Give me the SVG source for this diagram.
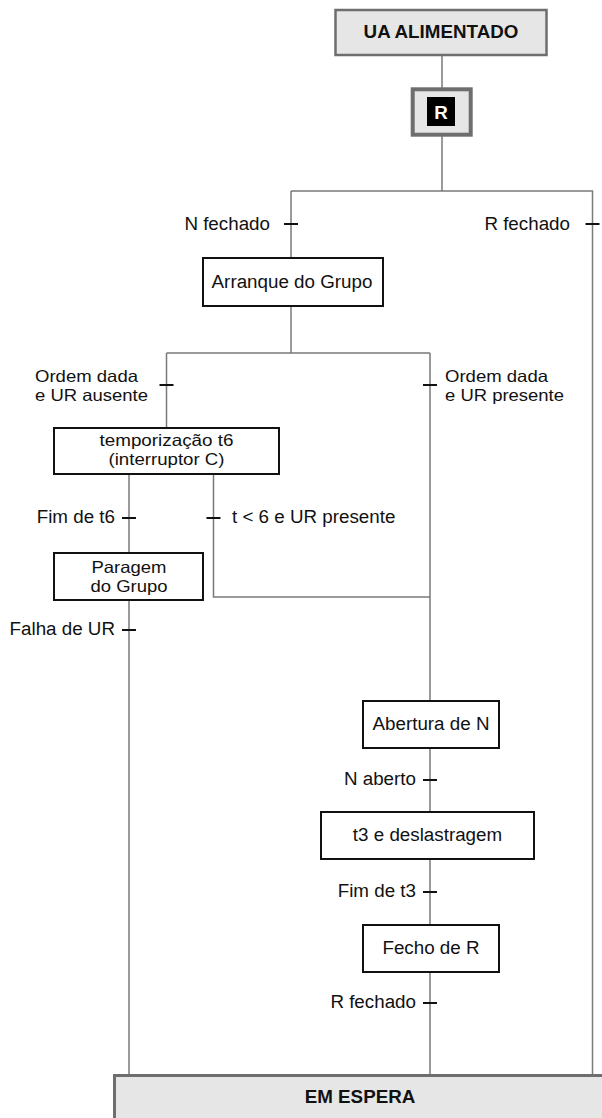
<svg xmlns="http://www.w3.org/2000/svg" width="602" height="1118" viewBox="0 0 602 1118">
  <style>
    text { font-family: "Liberation Sans", Arial, sans-serif; font-size: 18.8px; fill: #111; }
    text.two { font-size: 16.5px; }
    .b { font-weight: bold; }
    .m { text-anchor: middle; }
    .e { text-anchor: end; }
    .wire { stroke: #7a7a7a; stroke-width: 1.5; fill: none; }
    .tick { stroke: #111; stroke-width: 2; }
    .step { fill: #fff; stroke: #111; stroke-width: 2; }
    .state { fill: #e6e6e6; stroke: #6e6e6e; }
  </style>

  <!-- connectors -->
  <g id="connectors">
    <path class="wire" d="M442 56 V88 M442 136 V191 M291 191 H592.5 V1076 M291 191 V258"/>
    <path class="wire" d="M291 306 V353 M166.5 353 H430 M166.5 353 V428 M430 353 V701"/>
    <path class="wire" d="M129 474 V553 M213.5 474 V597 H430 M129 600 V1076"/>
    <path class="wire" d="M430 748 V812 M430 859 V925 M430 972 V1076"/>
    <!-- transition bars -->
    <path class="tick" d="M284 224 H298 M585.5 224 H599.5 M159.5 385 H173.5 M423 385 H437 M122 518 H136 M206.5 518 H220.5 M122 630 H136 M423 780 H437 M423 892 H437 M423 1003 H437"/>
  </g>

  <!-- transition labels -->
  <g id="labels">
    <text class="e" x="270" y="230">N fechado</text>
    <text class="e" x="570" y="230">R fechado</text>
    <text class="two" x="35" y="382" textLength="103" lengthAdjust="spacingAndGlyphs">Ordem dada</text>
    <text class="two" x="35" y="401" textLength="113" lengthAdjust="spacingAndGlyphs">e UR ausente</text>
    <text class="two" x="445" y="382" textLength="103" lengthAdjust="spacingAndGlyphs">Ordem dada</text>
    <text class="two" x="445" y="401" textLength="119" lengthAdjust="spacingAndGlyphs">e UR presente</text>
    <text class="e" x="115" y="523">Fim de t6</text>
    <text x="232" y="523">t &lt; 6 e UR presente</text>
    <text class="e" x="115" y="635">Falha de UR</text>
    <text class="e" x="416" y="785">N aberto</text>
    <text class="e" x="416" y="897">Fim de t3</text>
    <text class="e" x="416" y="1008">R fechado</text>
  </g>

  <g id="ua-alimentado">
    <rect class="state" x="335.5" y="10" width="211" height="45" stroke-width="2.5"/>
    <text class="b m" x="441" y="38">UA ALIMENTADO</text>
  </g>

  <g id="rearme">
    <rect class="state" x="412.7" y="89.3" width="58" height="45.4" stroke-width="4"/>
    <rect x="427" y="97" width="28" height="29" fill="#000"/>
    <text class="b m" x="441" y="118.5" style="fill:#fff">R</text>
  </g>

  <g id="arranque">
    <rect class="step" x="203" y="258" width="180" height="48"/>
    <text class="m" x="292" y="288">Arranque do Grupo</text>
  </g>

  <g id="temporizacao">
    <rect class="step" x="54" y="428" width="225" height="46"/>
    <text class="two m" x="166.5" y="446" textLength="134" lengthAdjust="spacingAndGlyphs">temporização t6</text>
    <text class="two m" x="166.5" y="465" textLength="116" lengthAdjust="spacingAndGlyphs">(interruptor C)</text>
  </g>

  <g id="paragem">
    <rect class="step" x="54" y="553" width="149" height="47"/>
    <text class="two m" x="129" y="573" textLength="75" lengthAdjust="spacingAndGlyphs">Paragem</text>
    <text class="two m" x="129" y="592" textLength="77" lengthAdjust="spacingAndGlyphs">do Grupo</text>
  </g>

  <g id="abertura">
    <rect class="step" x="363" y="701" width="136" height="47"/>
    <text class="m" x="431" y="730">Abertura de N</text>
  </g>

  <g id="deslastragem">
    <rect class="step" x="321" y="812" width="213" height="47"/>
    <text class="m" x="427.5" y="841">t3 e deslastragem</text>
  </g>

  <g id="fecho">
    <rect class="step" x="363" y="925" width="136" height="47"/>
    <text class="m" x="431" y="954">Fecho de R</text>
  </g>

  <g id="em-espera">
    <rect class="state" x="114.5" y="1075.5" width="500" height="60" stroke-width="3"/>
    <text class="b m" x="360" y="1103">EM ESPERA</text>
  </g>
</svg>
